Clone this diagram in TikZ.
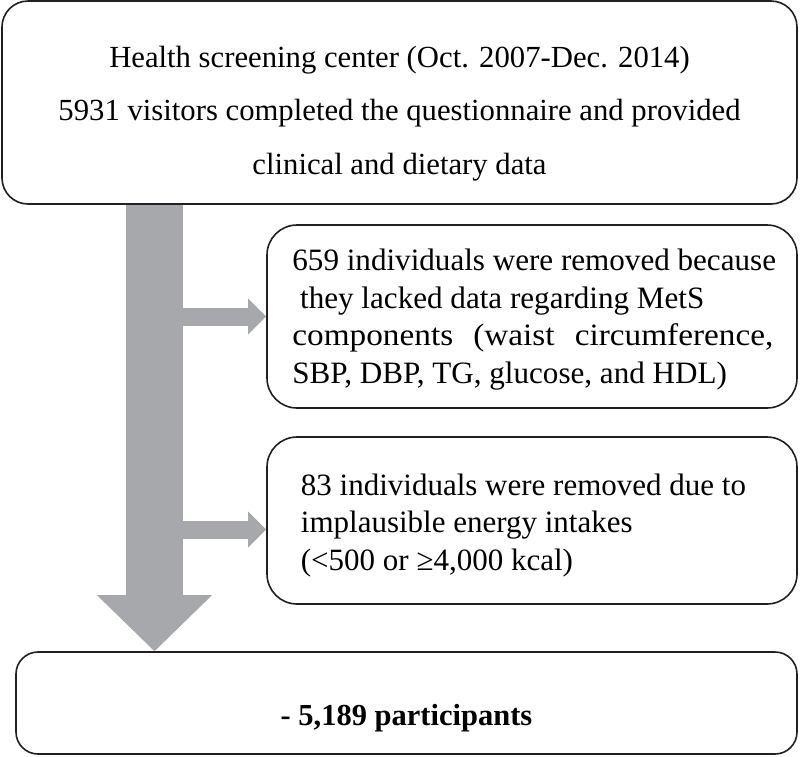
\documentclass[tikz,border=0pt]{standalone}
\usepackage{fontspec}
\usepackage{graphicx}
\setmainfont{Liberation Serif}
\usetikzlibrary{arrows.meta,backgrounds}
\definecolor{linec}{HTML}{231F20}
\definecolor{arrowgray}{HTML}{A6A8AB}
\newcommand{\widerword}[1]{\scalebox{1.07}[1]{#1}}
\tikzset{
  box/.style={draw=linec, line width=1.6pt, fill=white, inner sep=0pt, rounded corners=#1},
  box/.default=28pt,
  bigarrow/.style={draw=arrowgray, line width=57pt,
    -{Triangle[length=56pt,width=115pt,line width=0pt]}},
  sidearrow/.style={draw=arrowgray, line width=18pt,
    -{Triangle[length=18pt,width=36pt,line width=0pt]}},
  boxtext/.style={inner sep=0pt, text=black},
}
\begin{document}
\begin{tikzpicture}[x=1pt,y=1pt]
\useasboundingbox (0,0) rectangle (800,-756);
% boxes
\node[box=26pt, minimum width=795pt, minimum height=203pt] (top) at (399.5,-102.5) {};
\node[box=30pt, minimum width=530pt, minimum height=183pt] (b1) at (532,-316.5) {};
\node[box=30pt, minimum width=530pt, minimum height=167pt] (b2) at (532,-520.5) {};
\node[box=22pt, minimum width=781pt, minimum height=102pt] (bot) at (406.5,-703) {};
% texts
\node[boxtext, align=center, anchor=north, font=\fontsize{30.7}{53.5}\selectfont] (ttop) at (399.5,-43)
  {\rule{0pt}{24pt}Health screening center (Oct. 2007-Dec. 2014)\\
   5931 visitors completed the questionnaire and provided\\
   clinical and dietary data};
\node[boxtext, align=left, anchor=north west, font=\fontsize{31.1}{37.6}\selectfont] (tb1) at (292.2,-246.5)
  {\rule{0pt}{24pt}659 individuals were removed because\\
   \hspace*{0.25em}they lacked data regarding MetS\\
   \makebox[481pt][s]{\widerword{components}\ \widerword{(waist}\ \widerword{circumference,}}\\
   SBP, DBP, TG, glucose, and HDL)};
\node[boxtext, align=left, anchor=north west, font=\fontsize{31}{37.5}\selectfont] (tb2) at (300.7,-471)
  {\rule{0pt}{24pt}83 individuals were removed due to\\
   implausible energy intakes\\
   (<500 or ≥4,000 kcal)};
\node[boxtext, anchor=base, font=\fontsize{30.5}{36}\selectfont\bfseries] (tbot) at (406.5,-725)
  {- 5,189 participants};
% arrows
\coordinate (sx) at (154.5,0);
\begin{scope}[on background layer]
  \draw[bigarrow] (top.south -| sx) -- (bot.north -| sx);
  \draw[sidearrow] (sx |- b1.west) -- (b1.west);
  \draw[sidearrow] ([yshift=-9pt]b2.west -| sx) -- ([yshift=-9pt]b2.west);
\end{scope}
\end{tikzpicture}
\end{document}
